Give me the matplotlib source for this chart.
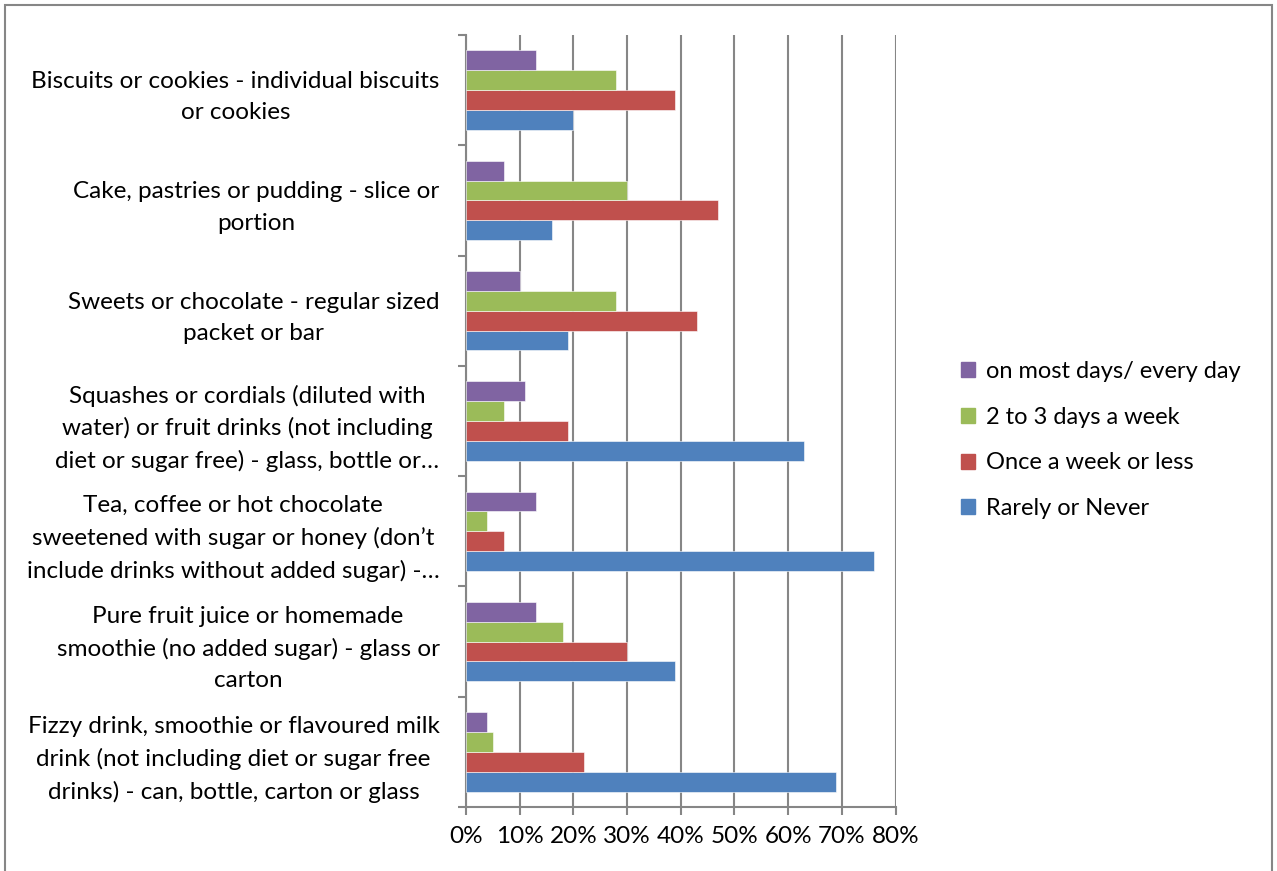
import numpy as np
import matplotlib.pyplot as plt
from matplotlib.patches import Rectangle, Patch

# Survey categories, bottom to top as drawn
foods = [
    'Fizzy drink, smoothie or flavoured milk\ndrink (not including diet or sugar free\ndrinks) - can, bottle, carton or glass',
    'Pure fruit juice or homemade\nsmoothie (no added sugar) - glass or\ncarton',
    'Tea, coffee or hot chocolate\nsweetened with sugar or honey (don\u2019t\ninclude drinks without added sugar) -\u2026',
    'Squashes or cordials (diluted with\nwater) or fruit drinks (not including\ndiet or sugar free) - glass, bottle or\u2026',
    'Sweets or chocolate - regular sized\npacket or bar',
    'Cake, pastries or pudding - slice or\nportion',
    'Biscuits or cookies - individual biscuits\nor cookies',
]

# Percentages for each frequency answer
rarely = [69, 39, 76, 63, 19, 16, 20]
once_week = [22, 30, 7, 19, 43, 47, 39]
two_three = [5, 18, 4, 7, 28, 30, 28]
most_days = [4, 13, 13, 11, 10, 7, 13]

series = [
    ('Rarely or Never', rarely, '#4F81BD'),
    ('Once a week or less', once_week, '#C0504D'),
    ('2 to 3 days a week', two_three, '#9BBB59'),
    ('on most days/ every day', most_days, '#8064A2'),
]

plt.rcParams['font.family'] = ['Lato', 'DejaVu Sans']
grey = '#868686'
fs = 17.5

fig = plt.figure(figsize=(12.77, 8.71), dpi=100)
ax = fig.add_axes([466 / 1277, 64 / 871, 429.5 / 1277, 772 / 871])

y = np.arange(len(foods))
h = 0.18
for k, (name, vals, col) in enumerate(series):
    ax.barh(y + (k - 1.5) * h, vals, height=h, color=col, edgecolor='white',
            linewidth=0.4, label=name, zorder=3)

ax.set_xlim(0, 80)
ax.set_ylim(-0.5, len(foods) - 0.5)
ax.set_xticks(np.arange(0, 81, 10))
ax.set_xticklabels(['%d%%' % v for v in range(0, 81, 10)])
ax.xaxis.grid(True, color=grey, linewidth=1.5, zorder=0)

# category separators as tick marks, labels centred in each band
ax.set_yticks(np.arange(-0.5, len(foods), 1.0))
ax.set_yticklabels([])
ax.set_yticks(y, minor=True)
ax.set_yticklabels(foods, minor=True, multialignment='center', fontsize=fs,
                   linespacing=1.6)
ax.tick_params(axis='y', which='minor', length=0, pad=19)
ax.tick_params(axis='y', which='major', length=6, width=1.5, color=grey)
ax.tick_params(axis='x', length=6, width=1.5, color=grey, labelsize=fs, pad=8)

for s in ['top', 'right']:
    ax.spines[s].set_visible(False)
for s in ['left', 'bottom']:
    ax.spines[s].set_color(grey)
    ax.spines[s].set_linewidth(1.5)

handles = [Patch(color=c, label=n) for n, _, c in series[::-1]]
fig.legend(handles=handles, loc='center left', bbox_to_anchor=(940 / 1277, 1 - 440 / 871),
           frameon=False, fontsize=17, handlelength=0.6, handleheight=0.6,
           handletextpad=0.45, labelspacing=1.05)

# chart border
fig.add_artist(Rectangle((5 / 1277, -0.02), 1267 / 1277, 1 - 5 / 871 + 0.02, fill=False,
                         edgecolor=grey, linewidth=1.5, transform=fig.transFigure))

fig.savefig('out.png', dpi=100)
